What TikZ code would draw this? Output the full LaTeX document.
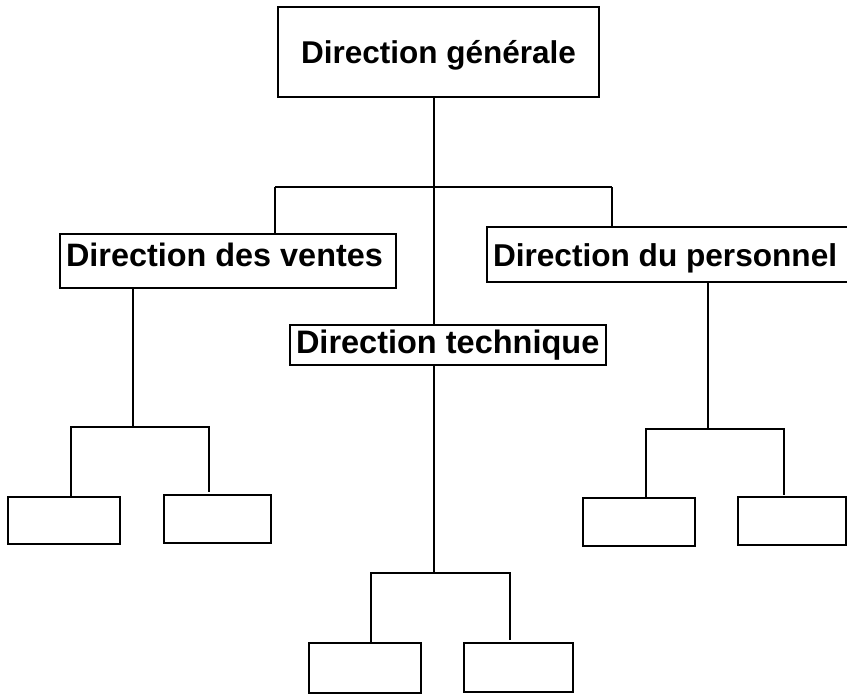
\documentclass[tikz,border=0pt]{standalone}
\usepackage{fontspec}
\setmainfont{Liberation Sans}
\begin{document}
\begin{tikzpicture}[x=1pt,y=-1pt,
  bigbox/.style={draw=black,line width=1.5pt,inner sep=0pt,fill=white},
  subbox/.style={draw=black,line width=1.4pt,inner sep=0pt,fill=white},
  link/.style={draw=black,line width=1.2pt},
  bar/.style={draw=black,line width=2.2pt}]
\useasboundingbox (0,0) rectangle (847,696);
% junction coordinates
\coordinate (j0) at (434,187);
\coordinate (jl) at (275,187);
\coordinate (jr) at (612,187);
\coordinate (va) at (133,427);
\coordinate (vl) at (71,427);
\coordinate (vr) at (209,427);
\coordinate (vre) at (209,492);
\coordinate (ta) at (434,573);
\coordinate (tl) at (371,573);
\coordinate (tr) at (510,573);
\coordinate (tre) at (510,640);
\coordinate (pa) at (708,429);
\coordinate (pl) at (646,429);
\coordinate (pr) at (784,429);
\coordinate (pre) at (784,495);

% main nodes
\node[bigbox,minimum width=321pt,text height=56pt,text depth=34pt,
  font=\fontsize{31.5}{36}\selectfont\bfseries] (dg) at (438.5,52) {Direction générale};
\node[bigbox,inner xsep=6pt,text height=32pt,text depth=22pt,
  font=\fontsize{32.4}{36}\selectfont\bfseries] (ventes) at (228,261)
  {\makebox[324pt][l]{Direction des ventes}};
\node[bigbox,inner xsep=6pt,text height=28pt,text depth=12pt,
  font=\fontsize{32.5}{36}\selectfont\bfseries] (tech) at (448,345)
  {\makebox[304pt][l]{Direction technique}};
\node[bigbox,inner xsep=6pt,text height=39pt,text depth=16pt,
  font=\fontsize{31.6}{36}\selectfont\bfseries] (pers) at (679.5,254.5)
  {\makebox[373pt][l]{Direction du personnel}};

% top connectors
\draw[link] (dg.south -| j0) -- (j0) -- (tech.north -| j0);
\draw[bar] (jl) -- (jr);
\draw[link] (jl) -- (jl |- ventes.north);
\draw[link] (jr) -- (jr |- pers.north);

% sub boxes
\node[subbox,minimum width=112pt,minimum height=47pt] (s1) at (64,520.5) {};
\node[subbox,minimum width=107pt,minimum height=48pt] (s2) at (217.5,519) {};
\node[subbox,minimum width=112pt,minimum height=50pt] (t1) at (365,668) {};
\node[subbox,minimum width=109pt,minimum height=49pt] (t2) at (518.5,667.5) {};
\node[subbox,minimum width=112pt,minimum height=48pt] (p1) at (639,522) {};
\node[subbox,minimum width=108pt,minimum height=48pt] (p2) at (792,521) {};

% sub connectors
\draw[link] (va |- ventes.south) -- (va);
\draw[link] (vl |- s1.north) -- (vl) -- (vr) -- (vre);
\draw[link] (ta |- tech.south) -- (ta);
\draw[link] (tl |- t1.north) -- (tl) -- (tr) -- (tre);
\draw[link,line width=1.7pt] (pa |- pers.south) -- (pa);
\draw[link] (pl |- p1.north) -- (pl) -- (pr) -- (pre);
\end{tikzpicture}
\end{document}
